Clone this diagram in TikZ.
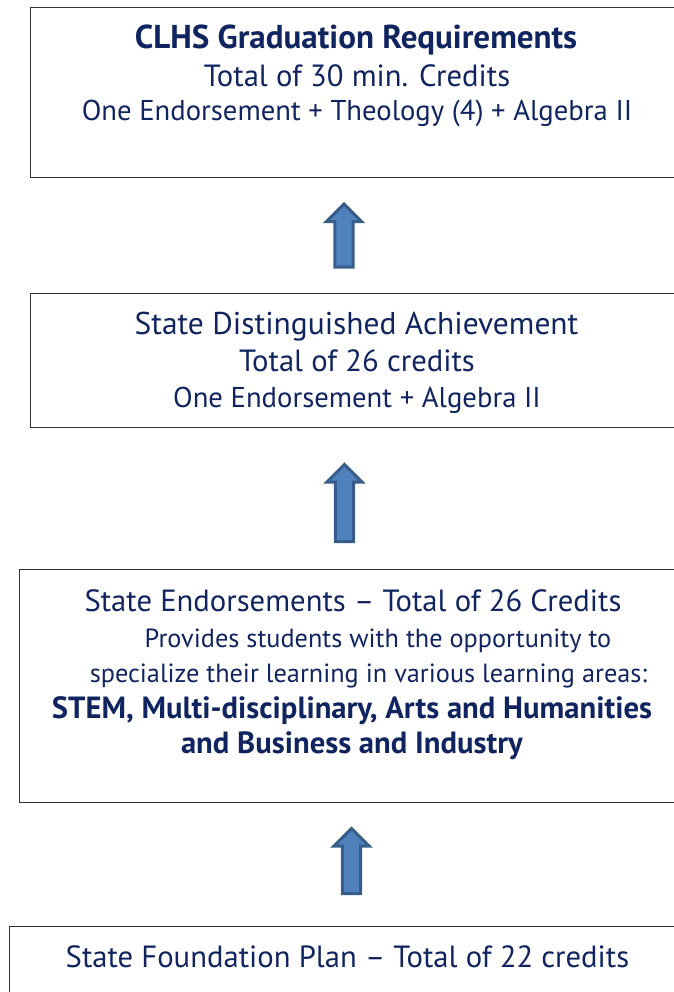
\documentclass[tikz,border=0pt]{standalone}
\usepackage{fontspec}
\setmainfont{PT Sans}
\usetikzlibrary{shapes.arrows}
\definecolor{textblau}{RGB}{16,36,96}
\definecolor{pfeilrand}{RGB}{56,93,138}
\definecolor{pfeilfuell}{RGB}{79,129,189}
\tikzset{
	kasten/.style={draw=black!80, line width=1.1pt, anchor=north west,
		inner sep=0pt},
	zeile/.style={text=textblau, anchor=base, inner sep=0pt},
	gross/.style={zeile, font=\fontsize{23}{27}\selectfont},
	plus/.style={zeile, font=\fontsize{21.5}{25}\selectfont},
	klein/.style={zeile, font=\fontsize{19.7}{23}\selectfont},
	pfeil/.style={single arrow, shape border rotate=90, draw=pfeilrand,
		fill=pfeilfuell, line width=2.25pt, inner sep=5.8pt, anchor=tail,
		single arrow head extend=6.3pt, single arrow tip angle=90},
}
\begin{document}
\begin{tikzpicture}[x=0.75pt, y=-0.75pt]
	\clip (0,0) rectangle (674,992);
	% Kaesten
	\node[kasten, minimum width=495pt, minimum height=127.5pt] (clhs) at (30,7) {};
	\node[kasten, minimum width=495pt, minimum height=100.5pt] (distinguished) at (30,293) {};
	\node[kasten, minimum width=503.25pt, minimum height=174.75pt] (endorsements) at (19,569) {};
	\node[kasten, minimum width=510.75pt, minimum height=63pt] (foundation) at (9,926) {};

	% Texte
	\node[zeile, font=\fontsize{24.8}{28}\selectfont] (clhsTitel) at (356,48) {\textbf{CLHS Graduation Requirements}};
	\node[gross] (clhsTotal) at (357,86) {Total of 30 min. Credits};
	\node[plus] (clhsPlus) at (357,120) {One Endorsement + Theology (4) + Algebra II};

	\node[zeile, font=\fontsize{23.6}{27}\selectfont] (distTitel) at (356.5,334) {State Distinguished Achievement};
	\node[gross] (distTotal) at (357,371) {Total of 26 credits};
	\node[plus] (distPlus) at (357,407) {One Endorsement + Algebra II};

	\node[gross] (endTitel) at (353,611) {State Endorsements -- Total of 26 Credits};
	\node[klein] (endZeileA) at (378,647) {Provides students with the opportunity to};
	\node[klein] (endZeileB) at (368.5,682.5) {specialize their learning in various learning areas:};
	\node[gross] (endZeileC) at (352,718) {\textbf{STEM, Multi-disciplinary, Arts and Humanities}};
	\node[gross] (endZeileD) at (352,753.5) {\textbf{and Business and Industry}};

	\node[gross] (foundTitel) at (347.5,967) {State Foundation Plan -- Total of 22 credits};

	% Pfeile
	\node[pfeil, minimum height=47.25pt] (pfeilA) at (344,268.5) {};
	\node[pfeil, minimum height=57.75pt] (pfeilB) at (344.5,543) {};
	\node[pfeil, minimum height=48.75pt] (pfeilC) at (351.5,895) {};
\end{tikzpicture}
\end{document}
